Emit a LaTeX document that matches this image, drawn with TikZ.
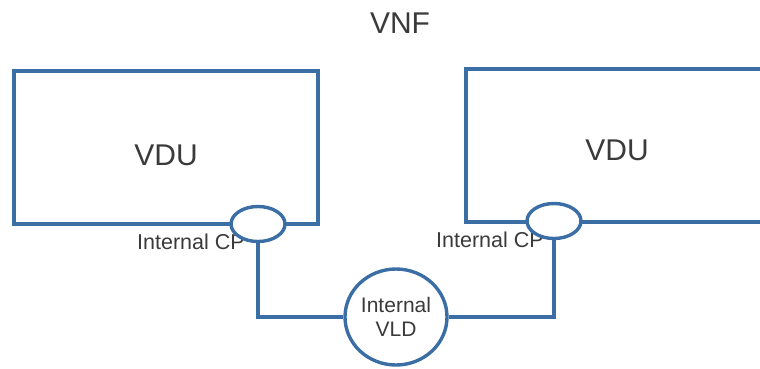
\documentclass[tikz,border=0pt]{standalone}
\usepackage{fontspec}
\setmainfont{Liberation Sans}
\usetikzlibrary{shapes.geometric}
\definecolor{lineblue}{HTML}{3B6EA5}
\definecolor{txtgray}{HTML}{3A3A3A}
\begin{document}
\begin{tikzpicture}[x=1pt,y=-1pt,
  vdubox/.style={draw=lineblue,line width=3.4pt,fill=white,minimum width=#1,minimum height=153pt,inner sep=0pt},
  bigtxt/.style={text=txtgray,font=\fontsize{30}{34}\selectfont,inner sep=0pt},
  cpport/.style={ellipse,draw=lineblue,line width=3.4pt,fill=white,minimum width=54pt,minimum height=35pt,inner sep=0pt},
  vld/.style={ellipse,draw=lineblue,line width=3.4pt,fill=white,minimum width=102pt,minimum height=96pt,inner sep=0pt,align=center,text=txtgray,font=\fontsize{21}{24}\selectfont},
  lbl/.style={text=txtgray,font=\fontsize{21.5}{24}\selectfont,inner sep=0pt},
  link/.style={draw=lineblue,line width=3.4pt}]
\useasboundingbox (0,0) rectangle (760,368);
\clip (0,0) rectangle (760,368);
\node[bigtxt] (vnf) at (400,23) {VNF};
\node[vdubox=304pt] (vdu1) at (166,147.5) {};
\node[bigtxt] (t1) at (166,155) {VDU};
\node[vdubox=330pt] (vdu2) at (631,145.5) {};
\node[bigtxt] (t2) at (617,150) {VDU};
\node[lbl,anchor=west] (cpl1) at (137,242) {Internal CP};
\node[lbl,anchor=west] (cpl2) at (436,240) {Internal CP};
\node[cpport] (cp1) at (258,224) {};
\node[cpport] (cp2) at (554,221) {};
\node[vld] (vld) at (396,317) {Internal\\VLD};
\draw[link] (cp1.south) |- (vld.west);
\draw[link] (vld.east) -| (cp2.south);
\end{tikzpicture}
\end{document}
